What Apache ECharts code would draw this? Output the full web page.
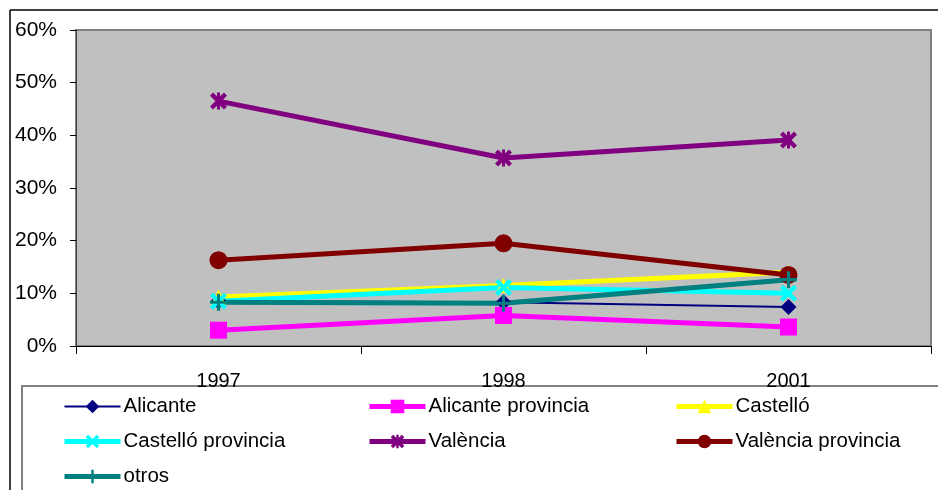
<!DOCTYPE html>
<html>
<head>
<meta charset="utf-8">
<script src="https://cdn.jsdelivr.net/npm/echarts@6/dist/echarts.min.js"></script>
<style>html,body{margin:0;padding:0;background:#fff}#c{width:938px;height:490px}</style>
</head>
<body>
<div id="c"></div>
<script>
var categories = ['1997', '1998', '2001'];
var yTicks = [0, 10, 20, 30, 40, 50, 60];
var alicante = [8.5, 8.3, 7.4];
var alicanteProv = [3.0, 5.8, 3.6];
var castello = [9.3, 11.5, 14.0];
var castelloProv = [8.5, 11.1, 10.0];
var valencia = [46.5, 35.7, 39.1];
var valenciaProv = [16.3, 19.5, 13.5];
var otros = [8.3, 8.1, 12.6];

var names = ['Alicante', 'Alicante provincia', 'Castelló', 'Castelló provincia', 'València', 'València provincia', 'otros'];
var FONT = 'Liberation Sans';
var SYM_X = 'path://M0,1.8L1.8,0L10,8.2L8.2,10Z M8.2,0L10,1.8L1.8,10L0,8.2Z';
var SYM_AST = 'path://M0,1.8L1.8,0L10,8.2L8.2,10Z M8.2,0L10,1.8L1.8,10L0,8.2Z M4.1,0L5.9,0L5.9,10L4.1,10Z';
var SYM_PLUS = 'path://M4.1,0L5.9,0L5.9,10L4.1,10Z M0,4.1L10,4.1L10,5.9L0,5.9Z';
var widths = {};

function mk(name, data, color, width, symbol, size) {
  widths[name] = width;
  return {
    name: name, type: 'line', data: data,
    lineStyle: {color: color, width: width},
    itemStyle: {color: color},
    symbol: symbol, symbolSize: size,
    showAllSymbol: true, animation: false
  };
}
var series = [
  mk(names[0], alicante, '#000080', 2, 'diamond', 16),
  mk(names[1], alicanteProv, '#FF00FF', 5, 'rect', 17),
  mk(names[2], castello, '#FFFF00', 5, 'triangle', 15),
  mk(names[3], castelloProv, '#00FFFF', 5, SYM_X, 17),
  mk(names[4], valencia, '#800080', 5, SYM_AST, 17),
  mk(names[5], valenciaProv, '#800000', 5, 'circle', 18),
  mk(names[6], otros, '#008080', 5, SYM_PLUS, 17)
];

function legend(left, data) {
  return {
    orient: 'vertical', left: left, top: 396, height: 100, padding: 0,
    data: data.map(function (n) { return {name: n, lineStyle: {width: widths[n]}}; }),
    itemWidth: 56, itemHeight: 17, itemGap: 14,
    textStyle: {fontFamily: FONT, fontSize: 20.5, color: '#000', padding: [0,0,0,-2]},
    selectedMode: false
  };
}

var chart = echarts.init(document.getElementById('c'));
chart.setOption({
  animation: false,
  backgroundColor: '#fff',
  graphic: [
    {type: 'line', shape: {x1: 10, y1: 10, x2: 938, y2: 10}, style: {stroke: '#000', lineWidth: 1.5}, z: 0},
    {type: 'line', shape: {x1: 10, y1: 10, x2: 10, y2: 490}, style: {stroke: '#000', lineWidth: 1.5}, z: 0},
    {type: 'rect', shape: {x: 22, y: 386, width: 930, height: 120}, style: {fill: '#fff', stroke: '#808080', lineWidth: 2}, z: 0}
  ],
  grid: {
    left: 76, top: 30, right: 7, bottom: 144,
    show: true, backgroundColor: '#C0C0C0', borderColor: '#808080', borderWidth: 2
  },
  legend: [
    legend(62, [names[0], names[3], names[6]]),
    legend(367, [names[1], names[4]]),
    legend(674, [names[2], names[5]])
  ],
  xAxis: {
    type: 'category', data: categories, boundaryGap: true,
    axisLine: {lineStyle: {color: '#000', width: 1}},
    axisTick: {show: true, length: 8, lineStyle: {color: '#000'}},
    axisLabel: {fontFamily: FONT, fontSize: 20, color: '#000', margin: 25},
    splitLine: {show: false}
  },
  yAxis: {
    type: 'value', min: yTicks[0], max: yTicks[yTicks.length - 1], interval: 10,
    axisLine: {show: true, lineStyle: {color: '#404040', width: 1}},
    axisTick: {show: true, length: 6, lineStyle: {color: '#000'}},
    axisLabel: {fontFamily: FONT, fontSize: 21, color: '#000', margin: 19, formatter: '{value}%'},
    splitLine: {show: false}
  },
  series: series
});
</script>
</body>
</html>
